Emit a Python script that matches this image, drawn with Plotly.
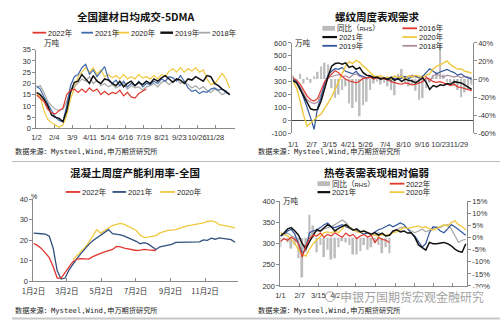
import plotly.graph_objects as go

W, H = 500, 325
def fx(p): return p / W
def fy(p): return 1 - p / H

# ================= DATA =================
# ---- top-left: 全国建材日均成交-5DMA (万吨) ----
TL_DAYS = list(range(1, 359, 7))
TL_TICKVALS = [1, 34, 67, 100, 133, 166, 199, 232, 265, 298, 331]
TL_TICKTEXT = ["1/2", "2/4", "3/9", "4/11", "5/14", "6/16", "7/19", "8/21", "9/23", "10/26", "11/28"]
TL_2022 = [15, 13.5, 12, 8.5, 7, 6.5, 8, 9, 15, 17, 17.5, 16, 17.5, 16, 18, 16.5, 17.5, 15, 16.5, 15,
           16, 15.5, 17, 14.5, 16, 14, 13.5, 15.5, 16.5, 17.5]
TL_2021 = [19, 17.5, 14, 11, 8, 5, 3.5, 3, 10, 19, 23, 24, 27, 28.5, 24, 26, 23, 25, 27.5, 22,
           20, 21.5, 19, 21, 18.5, 20, 19, 21, 18.5, 20, 19.5, 21, 20, 22, 21, 23, 22.5, 21, 23.5, 21,
           18, 16.5, 17, 15.5, 16.5, 16, 17.5, 18, 17, 17.5, 16, 15]
TL_2020 = [16, 14, 8, 4, 2.5, 1.5, 0.5, 1.5, 6, 13, 18, 23, 25, 27, 25, 27, 24, 26, 23, 24,
           22.5, 23.5, 22, 24, 22, 23, 22, 24, 22.5, 23, 22, 23.5, 22, 24, 23, 25.5, 26.5, 25, 27, 25,
           26.5, 25.5, 27, 25, 26, 22, 19.5, 20, 22, 24.5, 22, 18]
TL_2019 = [16, 15, 13, 10, 6, 5, 4.5, 3, 8, 16, 20.5, 21, 24, 22, 20, 23.5, 21, 20, 22, 21.5,
           20, 19, 21, 18.5, 20, 21, 19, 20.5, 19.5, 21, 20, 22, 21, 22.5, 23.5, 22, 20.5, 22, 21.5, 20,
           22, 21.5, 23, 22, 21, 23.5, 23, 20, 19, 17.5, 16.5, 15]
TL_2018 = [18, 19, 16, 12, 10, 8.5, 8, 8.5, 12, 17, 18.5, 20.5, 22, 21, 23, 20, 21.5, 19, 20, 18.5,
           19.5, 18, 19, 20, 17.5, 19, 18, 18.5, 17, 18.5, 19, 20, 18.5, 20.5, 21, 19.5, 21, 22, 20, 21,
           19.5, 18, 19, 17.5, 18.5, 17, 16, 17.5, 16.5, 15, 16, 15.5]

# ---- top-right: 螺纹周度表观需求 (万吨, 同比 %) ----
TR_DAYS = list(range(1, 359, 7))
TR_TICKVALS = [1, 38, 74, 111, 146, 185, 222, 259, 296, 333]
TR_TICKTEXT = ["1/1", "2/7", "3/15", "4/21", "5/26", "7/4", "8/10", "9/16", "10/23", "11/29"]
TR_YOY = [4, -3, 6, -5, 2, -4, 3, 8, 14, 18, 16, -10, -21, -17, -12, -8, -27, -32, -25, -41,
          -29, -25, -12, -5, -3, -6, -4, -8, -12, -18, 6, 11, -4, -8, -6, -13, -23, -21, -10, -4,
          3, 8, 38, 5, -3, -5, -8, -12, -20, -15, -12, -6]
TR_2016 = [330, 310, 280, 230, 190, 160, 150, 170, 240, 300, 330, 360, 385, 370, 340, 320, 305,
           300, 290, 305, 325, 330, 335, 320, 330, 325, 320, 315, 300, 290, 285, 280, 290, 285, 275,
           280, 290, 300, 330, 320, 300, 295, 300, 290, 280, 270, 280, 260, 255, 245, 240, 230]
TR_2021 = [310, 290, 240, 190, 130, 90, 80, 85, 150, 250, 340, 420, 440, 445, 435, 445, 410, 420, 395, 410,
           370, 350, 345, 330, 335, 320, 330, 315, 335, 310, 325, 300, 320, 310, 305, 290, 310, 330, 295, 240,
           270, 260, 275, 270, 285, 280, 300, 295, 290, 275, 255, 240]
TR_2020 = [300, 250, 150, 40, -45, -20, 10, 30, 50, 90, 130, 180, 240, 300, 360, 420, 455, 440, 465, 450,
           420, 400, 370, 345, 340, 345, 330, 335, 320, 345, 330, 340, 320, 345, 335, 350, 340, 330, 350, 360,
           400, 420, 430, 445, 460, 430, 410, 395, 400, 380, 375, 365]
TR_2019 = [320, 300, 250, 180, 100, 20, -70, 100, 180, 290, 350, 380, 400, 395, 410, 380, 370, 360, 380, 350,
           340, 330, 340, 325, 335, 320, 330, 325, 310, 325, 315, 330, 340, 325, 335, 345, 330, 340, 370, 400,
           380, 360, 375, 385, 395, 380, 370, 350, 360, 340, 330, 320]
TR_2018 = [300, 290, 260, 210, 160, 140, 130, 140, 200, 270, 330, 340, 350, 355, 340, 345, 330, 350, 360, 340,
           335, 320, 330, 340, 325, 330, 320, 335, 330, 340, 335, 345, 330, 340, 350, 335, 330, 345, 340, 300,
           350, 355, 345, 335, 350, 340, 335, 345, 330, 340, 335, 330]

# ---- bottom-left: 混凝土周度产能利用率-全国 (%) ----
BL_DAYS = list(range(2, 366, 7))
BL_TICKVALS = [2, 61, 122, 183, 245, 306]
BL_TICKTEXT = ["1月2日", "3月2日", "5月2日", "7月2日", "9月2日", "11月2日"]
BL_2022 = [18.5, 17.5, 16, 14, 11.5, 7, 1.5, 1.5, 4.5, 7, 9.5, 10.8, 11, 11, 10.8, 12, 13, 13.6, 14.3, 15,
           15.5, 17, 16.8, 16.2, 15.8, 15.4, 15, 15.2, 15.5, 15.3, 15.2, 15]
BL_2021 = [23.5, 23.5, 23.2, 23, 22, 16, 5, 1, 1.5, 5.5, 8.5, 11, 13.5, 16, 18, 19.8, 21.2, 22.5, 24, 25.2,
           23.2, 23, 22.6, 22, 21.2, 20.5, 19.5, 18.3, 18.8, 18.2, 16.8, 15.5, 16.8, 17.2, 17.5, 18, 19, 19, 19.2, 19,
           19.2, 19.3, 19.2, 20.2, 20, 21, 20.5, 21.2, 21, 20.8, 20.3, 19]
BL_2020_START = 10  # 2020 series begins at the 11th week
BL_2020 = [10.5, 12.5, 14, 16.5, 19, 22.4, 25.2, 23.5, 24.7, 26.2, 27.2, 27.8, 28.3, 27.8, 26.8, 26, 24.8, 22.5,
           21.4, 21.5, 21.8, 22.3, 23.6, 24.2, 24.8, 25, 25.2, 25.8, 26.6, 27.2, 27.4, 27.8, 28, 28.5, 29.2, 29.5,
           29, 27.6, 27.3, 27.1, 26.6, 26]

# ---- bottom-right: 热卷表需表现相对偏弱 (万吨, 同比 %) ----
BR_DAYS = list(range(1, 359, 7))
BR_TICKVALS = [1, 38, 74, 111, 146, 185, 222, 259, 296, 333]
BR_TICKTEXT = ["1/1", "2/7", "3/15", "4/21", "5/26", "7/4", "8/10", "9/16", "10/23", "11/29"]
BR_YOY = [-4, -1, -2, -4.5, -3, -8.5, -16.5, -6, 9.5, 5, -6, -3, -8, -5, -9, -8.5, -4, -1.5, -2, -3,
          -7, -7, -5.5, -3, -5, -4, -2, -3, -6.5, -4, -6.5]
BR_2022 = [305, 312, 308, 315, 310, 300, 268, 295, 312, 320, 318, 325, 315, 322, 318, 326, 320, 315, 325, 318,
           322, 312, 318, 322, 315, 320, 302, 315, 310, 308, 303]
BR_2021 = [318, 325, 335, 338, 330, 320, 300, 288, 305, 320, 333, 330, 338, 345, 340, 330, 336, 340, 345, 338,
           332, 335, 328, 330, 326, 322, 326, 320, 325, 318, 320, 330, 333, 328, 330, 325, 326, 315, 297, 290,
           285, 303, 300, 300, 302, 303, 300, 295, 287, 282, 280, 300]
BR_2020 = [326, 322, 318, 310, 300, 285, 276, 270, 287, 300, 308, 318, 326, 328, 325, 330, 326, 335, 345, 338,
           333, 328, 326, 330, 326, 322, 320, 318, 322, 320, 322, 326, 328, 333, 338, 336, 338, 340, 342, 338,
           340, 335, 332, 336, 340, 345, 342, 350, 354, 345, 340, 333]
BR_2019 = [318, 322, 330, 334, 322, 300, 277, 288, 326, 330, 333, 338, 345, 349, 340, 338, 342, 345, 340, 336,
           333, 330, 328, 322, 326, 322, 328, 333, 336, 340, 345, 340, 345, 349, 345, 335, 325, 318, 305, 292,
           300, 326, 340, 338, 330, 326, 335, 345, 340, 333, 326, 320]
BR_2018 = [326, 322, 325, 318, 315, 300, 285, 300, 318, 326, 330, 328, 335, 338, 340, 345, 350, 356, 350, 340,
           334, 330, 326, 322, 326, 324, 320, 326, 322, 318, 320, 328, 333, 338, 340, 336, 330, 326, 330, 334,
           328, 333, 336, 340, 338, 343, 345, 335, 318, 303, 308, 310]

# ================= STYLE =================
RED = "#e0382e"
BLUE = "#3f69aa"
NAVY = "#30507e"
BLUE2 = "#2f559d"
YELLOW = "#f1c93e"
GRAY = "#a8a8a8"
MAUVE = "#ad8d9e"
BLACK = "#111111"
BARGRAY = "#bcbcbc"
FONT = "Liberation Sans, Noto Sans CJK SC, sans-serif"
CJK = "Noto Sans CJK SC, sans-serif"
MONO = "DejaVu Sans Mono, Noto Sans CJK SC, monospace"

fig = go.Figure()

def line(x, y, color, xa, ya, width=1.2):
    fig.add_trace(go.Scatter(x=x, y=y, mode="lines", xaxis=xa, yaxis=ya,
                             line=dict(color=color, width=width), hoverinfo="skip"))

# top-left
line(TL_DAYS, TL_2020, YELLOW, "x", "y")
line(TL_DAYS, TL_2018, GRAY, "x", "y")
line(TL_DAYS, TL_2021, BLUE, "x", "y")
line(TL_DAYS, TL_2019, BLACK, "x", "y", 1.5)
line(TL_DAYS[:len(TL_2022)], TL_2022, RED, "x", "y")

# top-right: bars on % axis (y2), lines on 万吨 axis (y3)
fig.add_trace(go.Bar(x=TR_DAYS, y=TR_YOY, xaxis="x2", yaxis="y2", width=3.6,
                     marker=dict(color=BARGRAY, line=dict(width=0)), hoverinfo="skip"))
line(TR_DAYS, TR_2018, MAUVE, "x2", "y3")
line(TR_DAYS, TR_2019, BLUE2, "x2", "y3")
line(TR_DAYS, TR_2020, YELLOW, "x2", "y3", 1.4)
line(TR_DAYS, TR_2016, RED, "x2", "y3")
line(TR_DAYS, TR_2021, BLACK, "x2", "y3", 1.5)

# bottom-left
line(BL_DAYS[BL_2020_START:BL_2020_START + len(BL_2020)], BL_2020, YELLOW, "x3", "y4", 1.3)
line(BL_DAYS, BL_2021, NAVY, "x3", "y4", 1.3)
line(BL_DAYS[:len(BL_2022)], BL_2022, RED, "x3", "y4", 1.3)

# bottom-right
fig.add_trace(go.Bar(x=BR_DAYS[:len(BR_YOY)], y=BR_YOY, xaxis="x4", yaxis="y5", width=3.6,
                     marker=dict(color=BARGRAY, line=dict(width=0)), hoverinfo="skip"))
line(BR_DAYS, BR_2018, GRAY, "x4", "y6")
line(BR_DAYS, BR_2019, BLUE2, "x4", "y6")
line(BR_DAYS, BR_2020, YELLOW, "x4", "y6", 1.3)
line(BR_DAYS, BR_2021, BLACK, "x4", "y6", 1.5)
line(BR_DAYS[:len(BR_2022)], BR_2022, RED, "x4", "y6")

AX = dict(showgrid=False, zeroline=False, showline=True, linecolor="#8a8a8a", linewidth=1,
          tickfont=dict(family=FONT, size=7.5, color="#333"), ticks="outside", ticklen=3,
          tickcolor="#8a8a8a", fixedrange=True)
def ax(**kw):
    d = dict(AX)
    d.update(kw)
    return d

def tv(vals, suffix=""):
    return [("-" if v < 0 else "") + str(abs(v)) + suffix for v in vals]

TR_L = list(range(-100, 601, 100))
TR_R = list(range(-60, 41, 20))
BR_L = list(range(200, 401, 50))
BR_R = list(range(-20, 16, 5))

fig.update_layout(
    width=W, height=H, margin=dict(l=0, r=0, t=0, b=0), autosize=False,
    paper_bgcolor="white", plot_bgcolor="rgba(0,0,0,0)", showlegend=False, barmode="overlay",
    xaxis=ax(domain=[fx(25), fx(228)], range=[1, 366.8], anchor="y", tickvals=TL_TICKVALS,
             ticktext=TL_TICKTEXT, ticks="inside", tickangle=0, ticklabelstandoff=2),
    yaxis=ax(domain=[fy(128), fy(47)], range=[0, 35], dtick=5, anchor="x"),
    xaxis2=ax(domain=[fx(287), fx(472)], range=[-1, 360], anchor="y2", tickvals=TR_TICKVALS,
              ticktext=TR_TICKTEXT, showline=False, ticks="", tickangle=0, ticklabelstandoff=5),
    yaxis2=ax(domain=[fy(133), fy(40)], range=[-60, 40], tickvals=TR_R, ticktext=tv(TR_R, "%"),
              side="right", anchor="x2"),
    yaxis3=ax(range=[-100, 600], tickvals=TR_L, ticktext=tv(TR_L), overlaying="y2", side="left",
              anchor="x2", zeroline=True, zerolinecolor="#444", zerolinewidth=1),
    xaxis3=ax(domain=[fx(22), fx(232)], range=[2, 365], anchor="y4", tickvals=BL_TICKVALS,
              ticktext=BL_TICKTEXT, ticks="inside", tickangle=0, ticklabelstandoff=3,
              tickfont=dict(family=CJK, size=7.5, color="#333")),
    yaxis4=ax(domain=[fy(285), fy(201)], range=[0, 40], dtick=10, anchor="x3"),
    xaxis4=ax(domain=[fx(275), fx(466)], range=[1, 360], anchor="y5", tickvals=BR_TICKVALS,
              ticktext=BR_TICKTEXT, ticks="inside", tickangle=0, ticklabelstandoff=2),
    yaxis5=ax(domain=[fy(290), fy(203)], range=[-20, 15], tickvals=BR_R, ticktext=tv(BR_R, "%"),
              side="right", anchor="x4"),
    yaxis6=ax(range=[200, 400], tickvals=BR_L, ticktext=tv(BR_L), overlaying="y5", side="left",
              anchor="x4"),
)

shapes, annos = [], []
def txt(x, y, s, size=7.5, anchor="left", family=FONT, color="#222", **kw):
    annos.append(dict(xref="paper", yref="paper", x=fx(x), y=fy(y), text=s, showarrow=False,
                      xanchor=anchor, yanchor="middle", font=dict(family=family, size=size, color=color),
                      borderpad=0, **kw))
def leg_line(x0, x1, y, color, width=1.8):
    shapes.append(dict(type="line", xref="paper", yref="paper", x0=fx(x0), x1=fx(x1), y0=fy(y), y1=fy(y),
                       line=dict(color=color, width=width)))
def leg_bar(x0, x1, y, color):
    shapes.append(dict(type="rect", xref="paper", yref="paper", x0=fx(x0), x1=fx(x1), y0=fy(y + 2.5),
                       y1=fy(y - 2.5), fillcolor=color, line=dict(width=0)))
def item(x0, x1, y, color, label, kind="line", width=1.8):
    if kind == "bar":
        leg_bar(x0, x1, y, color)
    else:
        leg_line(x0, x1, y, color, width)
    txt(x1 + 1, y, label)

# titles
txt(127, 12.5, "<b>全国建材日均成交-5DMA</b>", size=10.5, anchor="center", family=CJK, color="#111")
txt(374, 12.5, "<b>螺纹周度表观需求</b>", size=10.5, anchor="center", family=CJK, color="#111")
txt(126, 173.5, "<b>混凝土周度产能利用率-全国</b>", size=10.5, anchor="center", family=CJK, color="#111")
txt(373, 173.5, "<b>热卷表需表现相对偏弱</b>", size=10.5, anchor="center", family=CJK, color="#111")

# legends
item(21, 35, 29.5, RED, "2022年")
item(71, 83, 29.5, BLUE, "2021年")
item(106, 120, 29.5, YELLOW, "2020年")
item(152, 165, 29.5, BLACK, "2019年", width=2.4)
item(191, 203, 29.5, GRAY, "2018年")

item(318, 331, 25, BARGRAY, "同比（<span style='font-size:6px'>RHS</span>）", kind="bar")
item(400, 415, 25, RED, "2016年")
item(318, 333, 34, BLACK, "2021年", width=2.2)
item(400, 415, 34, YELLOW, "2020年")
item(318, 333, 43, BLUE2, "2019年")
item(400, 415, 43, MAUVE, "2018年")

item(55, 70, 193.3, RED, "2022年")
item(103, 117, 193.3, NAVY, "2021年")
item(152, 167, 193.3, YELLOW, "2020年")

item(313, 326, 184.8, BARGRAY, "同比（<span style='font-size:6px'>RHS</span>）", kind="bar")
item(387, 402, 184.8, RED, "2022年")
item(313, 326, 193.5, BLACK, "2021年", width=2.2)
item(387, 402, 193.5, YELLOW, "2020年")

# units
txt(41, 40, "万吨", size=7.5, anchor="center", family=CJK)
txt(298, 40, "万吨", size=7.5, anchor="center", family=CJK)
txt(23, 198, "%", size=7, anchor="center")
txt(286, 202, "万吨", size=7.5, anchor="center", family=CJK)

# sources
SRC = "数据来源：Mysteel,Wind,申万期货研究所"
txt(2, 152, SRC, size=7.2, family=MONO)
txt(251, 152, SRC, size=7.2, family=MONO)
txt(2, 315, SRC, size=7.2, family=MONO)
txt(251, 315, SRC, size=7.2, family=MONO)

# watermark
shapes.append(dict(type="circle", xref="paper", yref="paper", x0=fx(321), x1=fx(331), y0=fy(306),
                   y1=fy(296), line=dict(color="rgba(110,110,110,0.6)", width=1)))
txt(410, 301, "申银万国期货宏观金融研究", size=12, anchor="center", family=CJK,
    color="rgba(95,95,95,0.6)", bgcolor="rgba(255,255,255,0.9)")

# separators
shapes.append(dict(type="line", xref="paper", yref="paper", x0=0, x1=1, y0=fy(162), y1=fy(162),
                   line=dict(color="#bdbdbd", width=1)))
shapes.append(dict(type="line", xref="paper", yref="paper", x0=0, x1=1, y0=fy(323.5), y1=fy(323.5),
                   line=dict(color="#c8c8c8", width=2)))

fig.update_layout(shapes=shapes, annotations=annos)
fig.write_html("out.html")
